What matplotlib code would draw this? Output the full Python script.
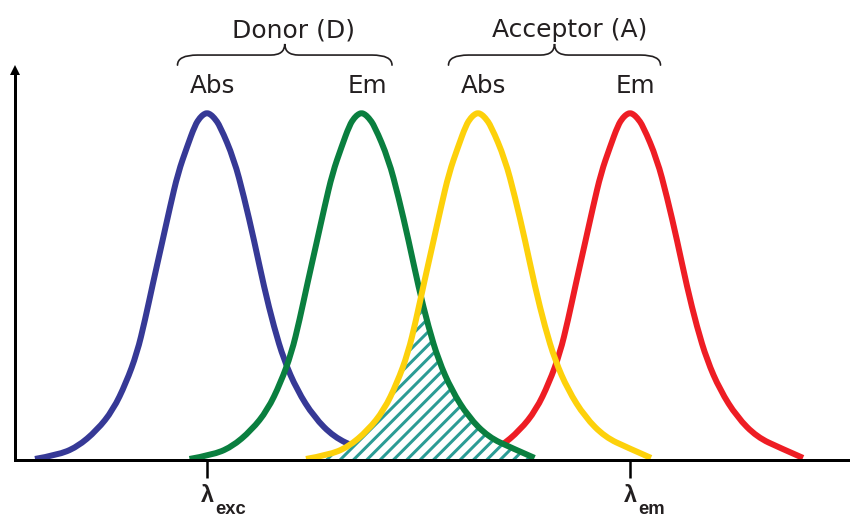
import numpy as np
import matplotlib.pyplot as plt
from matplotlib.path import Path
from matplotlib.patches import PathPatch

# band shape: offset from the peak and relative height
shape_dx = np.array([-172, -150, -130, -110, -94, -81, -70, -62, -54, -45, -37, -29, -20, -12, -7, -3,
                     0, 3, 7, 13, 27, 37, 47, 57, 67, 77, 90, 107, 127, 150, 173])
shape_h = np.array([0.003, 0.014, 0.037, 0.086, 0.144, 0.222, 0.308, 0.403, 0.510, 0.625, 0.729, 0.827,
                    0.902, 0.965, 0.987, 0.997, 1.0, 0.997, 0.987, 0.963, 0.867, 0.758, 0.634, 0.499,
                    0.383, 0.288, 0.202, 0.124, 0.066, 0.035, 0.006])

# peak positions (arbitrary wavelength units)
donor_abs = 192
donor_em = 346.5
acc_abs = 463
acc_em = 615

band_names = ['Abs', 'Em', 'Abs', 'Em']
band_peaks = [donor_abs, donor_em, acc_abs, acc_em]
groups = ['Donor (D)', 'Acceptor (A)']
tick_pos = [donor_abs, acc_em]
tick_main = ['λ', 'λ']
tick_sub = ['exc', 'em']

colors = ['#363996', '#0a7f3f', '#fdd10b', '#ee1d24']
zorders = [2, 4, 4.5, 2]
teal = '#2b9c95'
ink = '#231f20'

plt.rcParams['hatch.linewidth'] = 1.8


def smooth(pts):
    # quadratic b-spline through the read points (points act as control points)
    pts = list(pts)
    verts = [pts[0]]
    codes = [Path.MOVETO]
    for i in range(1, len(pts) - 1):
        nxt = pts[i + 1] if i + 1 < len(pts) - 1 else pts[-1]
        end = ((pts[i][0] + nxt[0]) / 2, (pts[i][1] + nxt[1]) / 2) if i + 1 < len(pts) - 1 else pts[-1]
        verts += [pts[i], end]
        codes += [Path.CURVE3, Path.CURVE3]
    return verts, codes


fig = plt.figure(figsize=(850 / 120, 517 / 120), dpi=120)
ax = fig.add_axes([15 / 850, 57 / 517, 835 / 850, 390 / 517])
ax.set_xlim(0, 835)
ax.set_ylim(0, 390 / 347)

for pk, c, z in zip(band_peaks, colors, zorders):
    v, cd = smooth(zip(pk + shape_dx, shape_h))
    ax.add_patch(PathPatch(Path(v, cd), fill=False, edgecolor=c, lw=3.6,
                           capstyle='butt', joinstyle='round', zorder=z))

# spectral overlap: under the acceptor Abs rising edge and the donor Em falling edge
yx = acc_abs + shape_dx
gx = donor_em + shape_dx
diff = shape_h - np.interp(yx, gx, shape_h)
left = yx <= acc_abs
i = np.where(left[:-1] & (diff[:-1] < 0) & (diff[1:] >= 0))[0][0]
t = -diff[i] / (diff[i + 1] - diff[i])
cross = (yx[i] + t * (yx[i + 1] - yx[i]), shape_h[i] + t * (shape_h[i + 1] - shape_h[i]))
keep_y = left & (yx < cross[0])
keep_g = (gx > cross[0])
pts = [(yx[0], 0)] + list(zip(yx[keep_y], shape_h[keep_y])) + [cross, cross, cross] + \
      list(zip(gx[keep_g], shape_h[keep_g]))
v, cd = smooth(pts[1:])
v = [pts[0]] + v + [(gx[-1], 0), pts[0]]
cd = [Path.MOVETO, Path.LINETO] + cd[1:] + [Path.LINETO, Path.CLOSEPOLY]
ax.add_patch(PathPatch(Path(v, cd), facecolor='white', edgecolor=teal,
                       hatch='///', lw=0, zorder=3))

# axes
for s in ['top', 'right']:
    ax.spines[s].set_visible(False)
for s in ['left', 'bottom']:
    ax.spines[s].set_linewidth(1.8)
    ax.spines[s].set_color('black')
    ax.spines[s].set_zorder(6)
ax.plot(0, 1, marker='^', ms=6.5, mew=0, color='black', transform=ax.transAxes,
        clip_on=False, zorder=7)
ax.set_yticks([])
ax.set_xticks(tick_pos, labels=['', ''])
ax.tick_params(axis='x', length=10.5, width=1.5, direction='out', color='black')

for x, m, sub in zip(tick_pos, tick_main, tick_sub):
    ax.annotate(m, (x, 0), xycoords=('data', 'axes fraction'), xytext=(0.5, -25.5),
                textcoords='offset points', ha='center', va='baseline',
                fontsize=14, fontweight='bold', family='Liberation Sans', color=ink)
    ax.annotate(sub, (x, 0), xycoords=('data', 'axes fraction'), xytext=(4.8, -32.5),
                textcoords='offset points', ha='left', va='baseline',
                fontsize=11, fontweight='bold', family='Liberation Sans', color=ink)

# Abs / Em labels over each band
for pk, name in zip(band_peaks, band_names):
    ax.text(pk + 5.5, 1.058, name, ha='center', va='baseline', fontsize=14.8,
            color=ink, clip_on=False)

# curly braces grouping donor and acceptor
y_end, y_mid, y_tip = 1.138, 1.167, 1.199
pairs = [(donor_abs, donor_em), (acc_abs, acc_em)]
group_shift = [8.5, 15]
for (a, b), g, sh in zip(pairs, groups, group_shift):
    x0, x1 = a - 29.5, b + 30.5
    xc = (x0 + x1) / 2
    r1, r2 = 20, 14
    v = [(x0, y_end), (x0, y_mid), (x0 + r1, y_mid),
         (xc - r2, y_mid), (xc, y_mid), (xc, y_tip),
         (xc, y_mid), (xc + r2, y_mid),
         (x1 - r1, y_mid), (x1, y_mid), (x1, y_end)]
    codes = [Path.MOVETO, Path.CURVE3, Path.CURVE3,
             Path.LINETO, Path.CURVE3, Path.CURVE3,
             Path.CURVE3, Path.CURVE3,
             Path.LINETO, Path.CURVE3, Path.CURVE3]
    ax.add_patch(PathPatch(Path(v, codes), fill=False, lw=1.0, edgecolor=ink,
                           clip_on=False, capstyle='round'))
    ax.text(xc + sh, 1.219, g, ha='center', va='baseline', fontsize=15,
            color=ink, clip_on=False)

fig.savefig('out.png', dpi=120)
